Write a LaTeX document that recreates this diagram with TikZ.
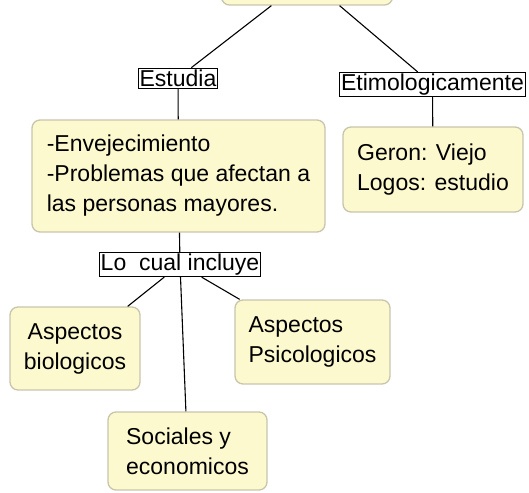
\documentclass[tikz,border=0pt]{standalone}
\usepackage{fontspec}
\setmainfont{Liberation Sans}
\definecolor{cmapfill}{RGB}{253,249,206}
\definecolor{cmapline}{RGB}{200,197,172}

\begin{document}
\begin{tikzpicture}[x=1pt,y=-1pt,
  concepto/.style={draw=cmapline,fill=cmapfill,rounded corners=8pt,line width=1.3pt,
    inner sep=0pt,align=left,font=\fontsize{23}{30}\selectfont},
  enlace/.style={draw,fill=white,inner sep=1.5pt,line width=0.8pt,font=\fontsize{23}{27}\selectfont}]
  \useasboundingbox (0,0) rectangle (529,492);
  % concepts
  \node[concepto,minimum width=171pt,minimum height=54pt] (top) at (307,-22) {};
  \node[concepto,minimum width=293pt,minimum height=112pt] (estudio) at (178.5,176)
    {-Envejecimiento\\-Problemas que afectan a\\las personas mayores.};
  \node[concepto,minimum width=180pt,minimum height=85pt] (geron) at (433,169.5)
    {Geron: Viejo\\Logos: estudio};
  \node[concepto,align=center,minimum width=130pt,minimum height=83pt] (bio) at (75,348.5)
    {Aspectos\\biologicos};
  \node[concepto,minimum width=155pt,minimum height=84pt] (psico) at (312.5,342)
    {Aspectos\\Psicologicos};
  \node[concepto,minimum width=159pt,minimum height=78pt] (social) at (187.5,451)
    {Sociales y\\economicos};
  % links
  \node[enlace] (estudia) at (178,78) {Estudia};
  \node[enlace] (etimo) at (432.5,84.5) {Etimologicamente};
  \node[enlace] (incluye) at (180,264.5) {Lo\ \ cual incluye};

  \foreach \a/\b in {top/estudia, top/etimo, estudia/estudio, etimo/geron,
                     estudio/incluye, incluye/bio, incluye/psico, incluye/social}{
    \draw[line width=1.1pt] (\a) -- (\b);
  }
\end{tikzpicture}
\end{document}
